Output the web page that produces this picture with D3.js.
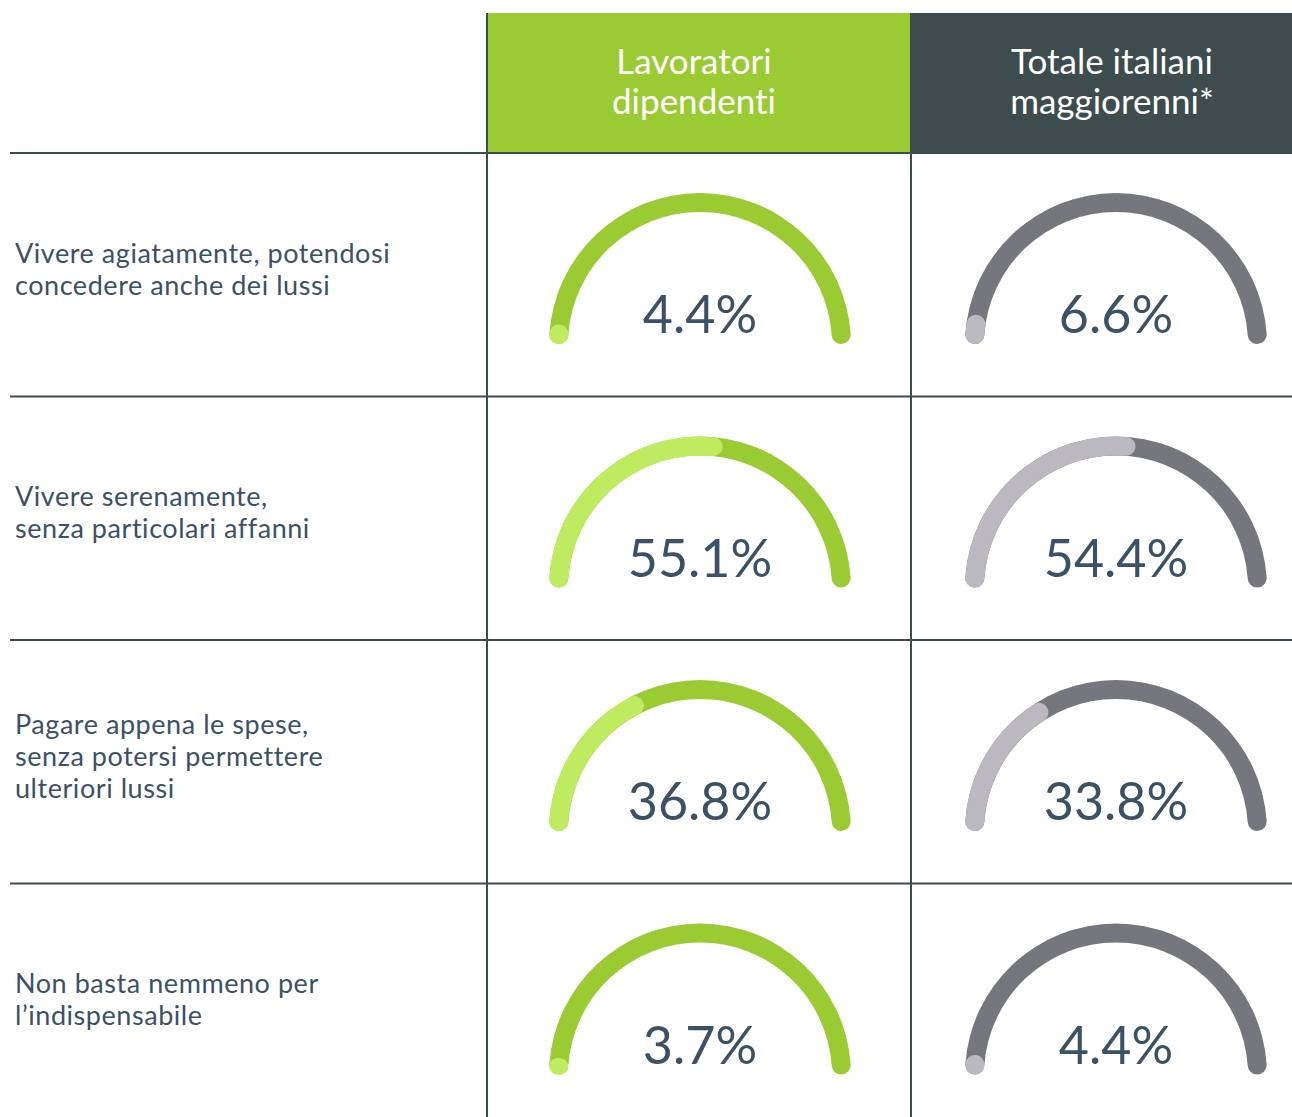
<!DOCTYPE html>
<html><head><meta charset="utf-8">
<script src="https://cdn.jsdelivr.net/npm/d3@7"></script>
<style>html,body{margin:0;padding:0;background:#fff;}svg{display:block;}text{font-variant-ligatures:none;font-feature-settings:"liga" 0,"clig" 0;}</style>
</head><body>
<script>
const categories = [
  ["Vivere agiatamente, potendosi", "concedere anche dei lussi"],
  ["Vivere serenamente,", "senza particolari affanni"],
  ["Pagare appena le spese,", "senza potersi permettere", "ulteriori lussi"],
  ["Non basta nemmeno per", "l’indispensabile"]
];
const series = ["Lavoratori dipendenti", "Totale italiani maggiorenni*"];
const seriesHeader = [["Lavoratori", "dipendenti"], ["Totale italiani", "maggiorenni*"]];
const lavoratori = [4.4, 55.1, 36.8, 3.7];
const totale = [6.6, 54.4, 33.8, 4.4];
const values = [lavoratori, totale];

const W = 1292, H = 1117;
const headerFill = ["#9bcb33", "#3d4d4d"];
const arcDark = ["#9bcb33", "#76767e"];
const arcLight = ["#bfeb61", "#bbb8c0"];
const lineColor = "#3d4d4d";
const textColor = "#3b5166";

const svg = d3.select("body").append("svg").attr("width", W).attr("height", H);

const rowIdx = d3.range(categories.length);
const y = d3.scaleBand().domain(rowIdx).range([153, 153 + 4 * 243.5]).paddingInner(0);
const colBand = d3.scaleBand().domain(series).range([487, 911 + 424]);
const cx = d3.scalePoint().domain(series).range([700, 1116]);
const angle = d3.scaleLinear().domain([0, 100]).range([-Math.PI / 2, Math.PI / 2]);

// header backgrounds
series.forEach((s, i) => {
  const x0 = colBand(s);
  const x1 = Math.min(W, x0 + colBand.bandwidth());
  svg.append("rect").attr("x", x0).attr("y", 13).attr("width", x1 - x0).attr("height", 140).attr("fill", headerFill[i]);
  const hx = cx(s) - 6 + i * 2;
  const t = svg.append("text").attr("x", hx).attr("y", 74)
    .attr("text-anchor", "middle").attr("fill", "#fff")
    .style("font-family", "Lato, 'Open Sans', sans-serif").style("font-size", "35px").style("font-weight", 400);
  seriesHeader[i].forEach((ln, k) => {
    t.append("tspan").attr("x", hx).attr("dy", k === 0 ? 0 : 40).text(ln);
  });
});

// grid lines
rowIdx.forEach(r => {
  svg.append("line").attr("x1", 10).attr("x2", W).attr("y1", y(r)).attr("y2", y(r))
    .attr("stroke", lineColor).attr("stroke-width", 2);
});
series.forEach(s => {
  svg.append("line").attr("x1", colBand(s)).attr("x2", colBand(s)).attr("y1", 13).attr("y2", H)
    .attr("stroke", lineColor).attr("stroke-width", 2);
});

// labels
rowIdx.forEach(r => {
  const lines = categories[r];
  const mid = y(r) + y.bandwidth() / 2;
  const first = mid - (lines.length - 1) * 16 + 4;
  const t = svg.append("text").attr("x", 15).attr("y", first).attr("fill", textColor)
    .style("font-family", "Lato, 'Open Sans', sans-serif").style("font-size", "27px")
    .style("letter-spacing", "0.55px");
  lines.forEach((ln, k) => t.append("tspan").attr("x", 15).attr("dy", k === 0 ? 0 : 32).text(ln));
});

// gauges
const rOut = 151, rIn = 132, cr = (rOut - rIn) / 2;
const arc = d3.arc().innerRadius(rIn).outerRadius(rOut).cornerRadius(cr);
series.forEach((s, i) => {
  rowIdx.forEach(r => {
    const v = values[i][r];
    const gx = cx(s), gy = y(r) + 191;
    const g = svg.append("g").attr("transform", `translate(${gx},${gy})`);
    g.append("path").attr("d", arc({ startAngle: angle(0), endAngle: angle(100) })).attr("fill", arcDark[i]);
    g.append("path").attr("d", arc({ startAngle: angle(0), endAngle: angle(v) })).attr("fill", arcLight[i]);
    g.append("text").attr("x", 0).attr("y", -11).attr("text-anchor", "middle").attr("fill", textColor)
      .style("font-family", "Lato, 'Open Sans', sans-serif").style("font-size", "52px")
      .text(d3.format(".1f")(v) + "%");
  });
});
</script>
</body></html>
